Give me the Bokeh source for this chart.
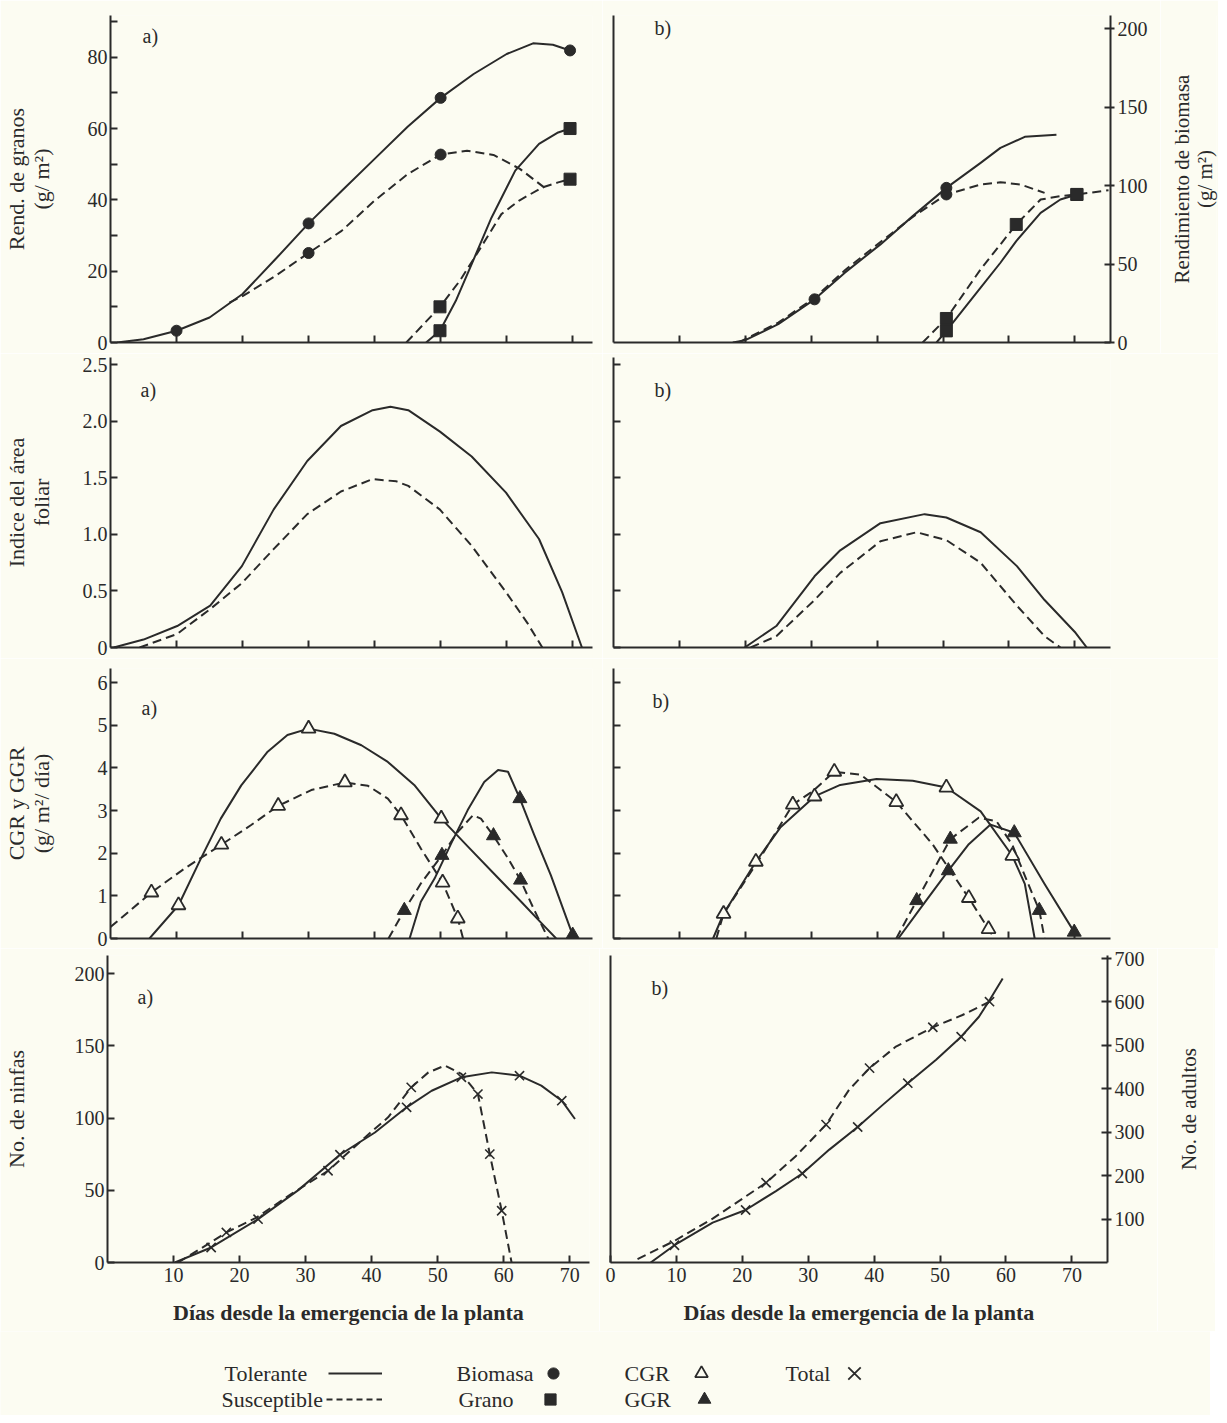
from bokeh.plotting import figure
from bokeh.layouts import column, row
from bokeh.models import Range1d, FixedTicker, LinearAxis, Label, Legend, LegendItem
from bokeh.embed import file_html
from bokeh.resources import INLINE

# ------------------------------------------------------------------ data
# Row 1: biomass (circles) and grain (squares) yield, g/m2
bio_tol_a_d = [1, 5, 10, 15, 20, 25, 30, 35, 40, 45, 50, 55, 60, 64, 67, 69.6]
bio_tol_a_v = [0, 0.9, 3.3, 7.0, 13.6, 23.4, 33.4, 42.5, 51.5, 60.5, 68.6, 75.3, 80.9, 83.9, 83.5, 81.9]
bio_tol_a_pd = [10, 30, 50, 69.6]
bio_tol_a_pv = [3.3, 33.4, 68.6, 81.9]
bio_sus_a_d = [18, 20, 25, 30, 35, 40, 45, 50, 54, 58, 62, 66.3]
bio_sus_a_v = [11.2, 13, 18.7, 25.1, 31.3, 39.8, 47.2, 52.7, 53.8, 52.6, 48.7, 42.6]
bio_sus_a_pd = [30, 50]
bio_sus_a_pv = [25.1, 52.7]
gra_tol_a_d = [47.8, 49.9, 52.3, 54.7, 57.7, 61.3, 64.9, 67.8, 69.6]
gra_tol_a_v = [0, 3.3, 11.7, 22, 35, 48.2, 55.7, 58.9, 60]
gra_tol_a_pd = [49.9, 69.6]
gra_tol_a_pv = [3.3, 60]
gra_sus_a_d = [44.8, 49.9, 52.9, 55.3, 59.2, 61.9, 65.4, 67.8, 69.6]
gra_sus_a_v = [0, 10, 17.3, 24.3, 36, 39.8, 43.5, 44.9, 45.8]
gra_sus_a_pd = [49.9, 69.6]
gra_sus_a_pv = [10, 45.8]

bio_tol_b_d = [18.1, 20, 25, 30.5, 35.1, 40.5, 45.4, 50.5, 55.7, 58.7, 62.4, 67.2]
bio_tol_b_v = [0, 1.5, 11.7, 27.5, 44.5, 62.5, 80.5, 98.5, 114.4, 124, 131, 132.4]
bio_tol_b_pd = [30.5, 50.5]
bio_tol_b_pv = [27.5, 98.5]
bio_sus_b_d = [19, 25, 30.5, 35.1, 40.5, 45.4, 50.5, 55.7, 58.7, 61.8, 65.4]
bio_sus_b_v = [0, 12.7, 28.5, 46, 64, 80, 94.3, 100.6, 102.1, 100.6, 95.3]
bio_sus_b_pd = [50.5]
bio_sus_b_pv = [94.3]
gra_sus_b_d = [46.9, 50.5, 55.7, 61.1, 64.8, 67.8, 70.3, 75.1]
gra_sus_b_v = [0, 15.3, 46.6, 75.2, 91.1, 93.2, 94.3, 97]
gra_sus_b_pd = [50.5, 61.1, 70.3]
gra_sus_b_pv = [15.3, 75.2, 94.3]
gra_tol_b_d = [49, 50.5, 55.7, 58.7, 61.1, 64.8, 67.8, 70.3]
gra_tol_b_v = [0, 7.4, 35, 50.8, 64.6, 82.6, 91.1, 94.3]
gra_tol_b_pd = [50.5, 70.3]
gra_tol_b_pv = [7.4, 94.3]

# Row 2: leaf area index
lai_tol_a_d = [0.5, 5, 10.1, 15.1, 19.9, 24.7, 29.8, 34.9, 39.7, 42.4, 45.1, 49.9, 54.7, 59.9, 64.9, 68.4, 71.4]
lai_tol_a_v = [0, 0.07, 0.19, 0.37, 0.72, 1.22, 1.65, 1.96, 2.10, 2.13, 2.10, 1.91, 1.69, 1.37, 0.96, 0.49, 0]
lai_sus_a_d = [4.4, 10.1, 15.1, 19.9, 24.7, 29.8, 34.9, 39.7, 43.3, 45.1, 49.9, 54.7, 59.9, 63.1, 65.4]
lai_sus_a_v = [0, 0.12, 0.34, 0.57, 0.87, 1.18, 1.38, 1.49, 1.47, 1.43, 1.22, 0.90, 0.49, 0.22, 0]
lai_tol_b_d = [19.9, 24.7, 30.5, 34.4, 40.5, 47.2, 50.5, 55.7, 61.2, 65.4, 70.1, 71.8]
lai_tol_b_v = [0, 0.19, 0.63, 0.86, 1.10, 1.18, 1.15, 1.02, 0.72, 0.42, 0.13, 0]
lai_sus_b_d = [20.8, 24.7, 30.5, 34.4, 40.5, 46, 50.5, 55.7, 61.2, 65.4, 67.8]
lai_sus_b_v = [0, 0.10, 0.42, 0.66, 0.94, 1.02, 0.95, 0.75, 0.37, 0.10, 0]

# Row 3: CGR (open triangles) and GGR (filled triangles), g/m2/day
cgr_tol_a_d = [5.9, 10.3, 13.7, 16.7, 19.8, 23.8, 26.8, 30.0, 33.9, 38.0, 42.0, 46.0, 50.1, 54.1, 58.2, 62.2, 65.7, 67.5]
cgr_tol_a_v = [0, 0.78, 1.88, 2.81, 3.59, 4.38, 4.77, 4.92, 4.80, 4.53, 4.14, 3.6, 2.81, 2.16, 1.5, 0.86, 0.29, 0]
cgr_tol_a_pd = [10.3, 30.0, 50.1]
cgr_tol_a_pv = [0.78, 4.92, 2.81]
cgr_sus_a_d = [0, 6.2, 11.2, 16.8, 21.3, 25.4, 30.4, 35.5, 39, 42, 44, 47, 50.3, 52.6, 53.4]
cgr_sus_a_v = [0.27, 1.08, 1.64, 2.2, 2.66, 3.11, 3.48, 3.66, 3.58, 3.28, 2.89, 2.11, 1.31, 0.47, 0]
cgr_sus_a_pd = [6.2, 16.8, 25.4, 35.5, 44, 50.3, 52.6]
cgr_sus_a_pv = [1.08, 2.2, 3.11, 3.66, 2.89, 1.31, 0.47]
ggr_tol_a_d = [45.3, 47.0, 49.1, 51.6, 54.1, 56.6, 58.7, 60.2, 62, 64.2, 66.7, 70.0]
ggr_tol_a_v = [0, 0.86, 1.41, 2.23, 3.01, 3.67, 3.95, 3.91, 3.28, 2.42, 1.48, 0.08]
ggr_tol_a_pd = [62, 70.0]
ggr_tol_a_pv = [3.28, 0.08]
ggr_sus_a_d = [42.1, 44.5, 47.0, 50.2, 52.6, 54.9, 56.1, 58, 60.2, 62.1, 64.2, 66.3]
ggr_sus_a_v = [0, 0.66, 1.29, 1.95, 2.5, 2.89, 2.81, 2.41, 1.88, 1.37, 0.66, 0]
ggr_sus_a_pd = [44.5, 50.2, 58, 62.1]
ggr_sus_a_pv = [0.66, 1.95, 2.41, 1.37]

cgr_tol_b_d = [15.1, 16.7, 21.6, 25.3, 30.5, 34.4, 39.9, 45.4, 50.5, 55.7, 60.5, 62.4, 63.9]
cgr_tol_b_v = [0, 0.58, 1.80, 2.60, 3.33, 3.60, 3.74, 3.70, 3.54, 2.98, 1.94, 1.28, 0]
cgr_tol_b_pd = [16.7, 21.6, 30.5, 50.5, 60.5]
cgr_tol_b_pv = [0.58, 1.80, 3.33, 3.54, 1.94]
cgr_sus_b_d = [15.6, 16.7, 22.3, 27.2, 30.2, 33.5, 37.5, 42.9, 48.4, 53.9, 56.9, 57.8]
cgr_sus_b_v = [0, 0.58, 1.9, 3.14, 3.45, 3.91, 3.84, 3.2, 2.21, 0.95, 0.22, 0]
cgr_sus_b_pd = [27.2, 33.5, 42.9, 53.9, 56.9]
cgr_sus_b_pv = [3.14, 3.91, 3.2, 0.95, 0.22]
ggr_sus_b_d = [42.9, 46, 51.1, 55.4, 58.1, 60.5, 62.7, 64.6, 65.4]
ggr_sus_b_v = [0, 0.89, 2.33, 2.83, 2.75, 2.2, 1.36, 0.66, 0]
ggr_sus_b_pd = [46, 51.1, 64.6]
ggr_sus_b_pv = [0.89, 2.33, 0.66]
ggr_tol_b_d = [43.2, 47, 50.8, 53.9, 57.2, 60.8, 65.4, 69.9]
ggr_tol_b_v = [0, 0.8, 1.59, 2.21, 2.67, 2.48, 1.28, 0.15]
ggr_tol_b_pd = [50.8, 60.8, 69.9]
ggr_tol_b_pv = [1.59, 2.48, 0.15]

# Row 4: nymphs (a) and adults (b), totals (x)
nin_tol_d = [10.2, 15.7, 22.8, 28.9, 35.2, 40.5, 45.3, 49.1, 53.6, 58.2, 62.4, 65.7, 68.8, 70.8]
nin_tol_v = [0, 10.4, 30, 50.1, 74.6, 90, 107.4, 118.9, 128.2, 131.6, 129.3, 122.4, 112, 99.3]
nin_tol_pd = [15.7, 22.8, 35.2, 45.3, 53.6, 62.4, 68.8]
nin_tol_pv = [10.4, 30, 74.6, 107.4, 128.2, 129.3, 112]
nin_sus_d = [10.7, 15.2, 18, 22.6, 27.8, 33.4, 39, 42.5, 46.0, 48.6, 51.1, 53.6, 56.1, 57.9, 59.7, 61.2]
nin_sus_v = [0, 12.7, 20.8, 31.2, 47.3, 63.5, 86.6, 100.5, 121.2, 131.6, 136.3, 130.5, 116.6, 75, 35.8, 0]
nin_sus_pd = [18, 33.4, 46.0, 56.1, 57.9, 59.7]
nin_sus_pv = [20.8, 63.5, 121.2, 116.6, 75, 35.8]
adu_tol_d = [6.1, 9.7, 15.5, 20.5, 25.1, 29.1, 33.2, 37.5, 41.3, 45.1, 49.4, 53.2, 55.9, 57.5, 59.5]
adu_tol_v = [0, 39.8, 91.8, 120.9, 164.5, 205, 260, 312, 363, 413, 467, 520, 566, 604, 654]
adu_tol_pd = [9.7, 20.5, 29.1, 37.5, 45.1, 53.2]
adu_tol_pv = [39.8, 120.9, 205, 312, 413, 520]
adu_sus_d = [4.1, 9.7, 15.5, 23.6, 28.1, 32.7, 36.2, 39.3, 43.3, 48.9, 53.4, 57.5]
adu_sus_v = [7.7, 49.7, 101, 183.6, 244.8, 317.5, 397.9, 447.6, 497.3, 541.7, 570, 600.6]
adu_sus_pd = [23.6, 32.7, 39.3, 48.9, 57.5]
adu_sus_pv = [183.6, 317.5, 447.6, 541.7, 600.6]

# axis ticks and labels
x_ticks = [10, 20, 30, 40, 50, 60, 70]
x_ticks_b4 = [0, 10, 20, 30, 40, 50, 60, 70]
y1_ticks = [0, 20, 40, 60, 80]
y1_minor = [10, 30, 50, 70, 90]
y1r_ticks = [0, 50, 100, 150, 200]
y2_ticks = [0, 0.5, 1.0, 1.5, 2.0, 2.5]
y2_labels = ["0", "0.5", "1.0", "1.5", "2.0", "2.5"]
y3_ticks = [0, 1, 2, 3, 4, 5, 6]
y4_ticks = [0, 50, 100, 150, 200]
y4r_ticks = [100, 200, 300, 400, 500, 600, 700]
x_label = "Días desde la emergencia de la planta"

# ------------------------------------------------------------------ style
FONT = "Liberation Serif"
INK = "#2a2a2a"
BG = "#fcfcf2"
DASH = "9 5"
LW = 2
NAN = float("nan")

LEFT_W, RIGHT_W = 482, 497
LEFT_L, RIGHT_L = 110, 613
X_LEFT_MAX, X_RIGHT_MAX = 73.0, 75.4
RIGHT_BORDER = 50      # right-axis tick labels
SIDE_W = 58            # strip that carries the right-hand titles
# frame height, border top, border bottom, y max left, y max right
ROWS = [
    (327, 15, 11, 91.7, 208.3),
    (290, 4, 11, 2.566, 2.566),
    (270, 10, 10, 6.33, 6.33),
    (307, 7, 69, 212.5, 707.0),
]
TOPS = []
_y = 0
for fh, bt, bb, _a, _b in ROWS:
    TOPS.append(_y + bt)
    _y += bt + fh + bb


def make_fig(col, r):
    fh, bt, bb, yl, yr = ROWS[r]
    if col == 0:
        p = figure(frame_width=LEFT_W, frame_height=fh,
                   x_range=Range1d(0, X_LEFT_MAX), y_range=Range1d(0, yl),
                   min_border_left=102, min_border_right=10,
                   min_border_top=bt, min_border_bottom=bb,
                   output_backend="svg", toolbar_location=None)
    else:
        p = figure(frame_width=RIGHT_W, frame_height=fh,
                   x_range=Range1d(0, X_RIGHT_MAX), y_range=Range1d(0, yr),
                   min_border_left=11, min_border_right=RIGHT_BORDER + SIDE_W,
                   min_border_top=bt, min_border_bottom=bb,
                   output_backend="svg", toolbar_location=None)
    p.grid.visible = False
    p.outline_line_color = None
    p.background_fill_color = BG
    p.border_fill_color = BG
    return p


def style_axis(ax, ticks, labels=None, tin=7, tout=0, minor=None, show=True):
    ax.ticker = FixedTicker(ticks=ticks, minor_ticks=minor or [])
    ax.axis_line_color = INK
    ax.axis_line_width = LW
    ax.major_tick_line_color = INK if (tin or tout) else None
    ax.major_tick_line_width = LW
    ax.major_tick_in = tin
    ax.major_tick_out = tout
    ax.minor_tick_line_color = INK
    ax.minor_tick_line_width = LW
    ax.minor_tick_in = tin
    ax.minor_tick_out = tout
    ax.major_label_text_font = FONT
    ax.major_label_text_color = INK
    if show:
        ax.major_label_text_font_size = "20px"
        ax.major_label_standoff = 3
        if labels is not None:
            ax.major_label_overrides = {t: l for t, l in zip(ticks, labels)}
    else:
        ax.major_label_text_font_size = "1px"
        ax.major_label_standoff = 0
        ax.major_label_overrides = {t: "" for t in ticks}


def style_label(ax, text, standoff, size="22px", bold=False, line_height=1.0):
    ax.axis_label = text
    ax.axis_label_text_font = FONT
    ax.axis_label_text_font_size = size
    ax.axis_label_text_font_style = "bold" if bold else "normal"
    ax.axis_label_text_color = INK
    ax.axis_label_text_line_height = line_height
    ax.axis_label_standoff = standoff


def side_strip(r, text, standoff, line_height=1.0):
    """Narrow strip to the right of a right-hand panel: its left axis carries
    the right-hand title so that it reads bottom-to-top like the reference."""
    fh, bt, bb, _a, _b = ROWS[r]
    s = figure(frame_width=2, frame_height=fh, x_range=Range1d(0, 1), y_range=Range1d(0, 1),
               x_axis_type=None, min_border_left=SIDE_W - 2, min_border_right=0,
               min_border_top=bt, min_border_bottom=bb,
               output_backend="svg", toolbar_location=None)
    s.grid.visible = False
    s.outline_line_color = None
    s.background_fill_color = BG
    s.border_fill_color = BG
    ax = s.yaxis[0]
    style_axis(ax, [0.5], tin=0, show=False)
    ax.axis_line_color = None
    style_label(ax, text, standoff, size="21px", line_height=line_height)
    return s


def to_data(col, r, px, py):
    fh = ROWS[r][0]
    top = TOPS[r]
    if col == 0:
        fl, fw, xm, ym = LEFT_L, LEFT_W, X_LEFT_MAX, ROWS[r][3]
    else:
        fl, fw, xm, ym = RIGHT_L, RIGHT_W, X_RIGHT_MAX, ROWS[r][4]
    return (px - fl) / fw * xm, (top + fh - py) / fh * ym


def panel_label(p, col, r, text, px, py):
    x, y = to_data(col, r, px, py)
    p.add_layout(Label(x=x, y=y, text=text, text_font=FONT, text_font_size="20px",
                       text_color=INK, text_baseline="middle", text_align="left"))


def curve(p, d, v, dashed=False):
    p.line(d, v, line_color=INK, line_width=LW, line_dash=DASH if dashed else "solid",
           line_join="round")


def marks(p, d, v, kind):
    if kind == "circle":
        p.scatter(d, v, marker="circle", size=11, fill_color=INK, line_color=INK)
    elif kind == "square":
        p.scatter(d, v, marker="square", size=12, fill_color=INK, line_color=INK)
    elif kind == "open_tri":
        p.scatter(d, v, marker="triangle", size=14, fill_color=BG, line_color=INK, line_width=1.8)
    elif kind == "tri":
        p.scatter(d, v, marker="triangle", size=14, fill_color=INK, line_color=INK)
    elif kind == "x":
        p.scatter(d, v, marker="x", size=13, line_color=INK, line_width=1.6)


# ------------------------------------------------------------------ row 1
p1a = make_fig(0, 0)
style_axis(p1a.xaxis[0], x_ticks, show=False)
style_axis(p1a.yaxis[0], y1_ticks, minor=y1_minor)
style_label(p1a.yaxis[0], "Rend. de granos\n(g/ m²)", 31)
curve(p1a, bio_tol_a_d, bio_tol_a_v)
curve(p1a, bio_sus_a_d, bio_sus_a_v, True)
curve(p1a, gra_tol_a_d, gra_tol_a_v)
curve(p1a, gra_sus_a_d, gra_sus_a_v, True)
marks(p1a, bio_tol_a_pd, bio_tol_a_pv, "circle")
marks(p1a, bio_sus_a_pd, bio_sus_a_pv, "circle")
marks(p1a, gra_tol_a_pd, gra_tol_a_pv, "square")
marks(p1a, gra_sus_a_pd, gra_sus_a_pv, "square")
panel_label(p1a, 0, 0, "a)", 142, 35)

p1b = make_fig(1, 0)
p1b.min_border_right = RIGHT_BORDER
style_axis(p1b.xaxis[0], x_ticks, show=False)
style_axis(p1b.yaxis[0], [0], tin=0, show=False)
ax1r = LinearAxis()
style_axis(ax1r, y1r_ticks, tin=6, tout=4)
p1b.add_layout(ax1r, "right")
curve(p1b, bio_tol_b_d, bio_tol_b_v)
curve(p1b, bio_sus_b_d, bio_sus_b_v, True)
curve(p1b, gra_tol_b_d, gra_tol_b_v)
curve(p1b, gra_sus_b_d, gra_sus_b_v, True)
marks(p1b, bio_tol_b_pd, bio_tol_b_pv, "circle")
marks(p1b, bio_sus_b_pd, bio_sus_b_pv, "circle")
marks(p1b, gra_tol_b_pd, gra_tol_b_pv, "square")
marks(p1b, gra_sus_b_pd, gra_sus_b_pv, "square")
panel_label(p1b, 1, 0, "b)", 654, 27)
p1c = side_strip(0, "Rendimiento de biomasa\n(g/ m²)", 0, line_height=0.95)

# ------------------------------------------------------------------ row 2
p2a = make_fig(0, 1)
style_axis(p2a.xaxis[0], x_ticks, show=False)
style_axis(p2a.yaxis[0], y2_ticks, labels=y2_labels)
style_label(p2a.yaxis[0], "Indice del área\nfoliar", 26)
curve(p2a, lai_tol_a_d, lai_tol_a_v)
curve(p2a, lai_sus_a_d, lai_sus_a_v, True)
panel_label(p2a, 0, 1, "a)", 140, 389)

p2b = make_fig(1, 1)
style_axis(p2b.xaxis[0], x_ticks, show=False)
style_axis(p2b.yaxis[0], y2_ticks, show=False)
curve(p2b, lai_tol_b_d, lai_tol_b_v)
curve(p2b, lai_sus_b_d, lai_sus_b_v, True)
panel_label(p2b, 1, 1, "b)", 654, 389)

# ------------------------------------------------------------------ row 3
p3a = make_fig(0, 2)
style_axis(p3a.xaxis[0], x_ticks, show=False)
style_axis(p3a.yaxis[0], y3_ticks)
style_label(p3a.yaxis[0], "CGR y GGR\n(g/ m²/ día)", 41)
curve(p3a, cgr_tol_a_d, cgr_tol_a_v)
curve(p3a, cgr_sus_a_d, cgr_sus_a_v, True)
curve(p3a, ggr_tol_a_d, ggr_tol_a_v)
curve(p3a, ggr_sus_a_d, ggr_sus_a_v, True)
marks(p3a, cgr_tol_a_pd, cgr_tol_a_pv, "open_tri")
marks(p3a, cgr_sus_a_pd, cgr_sus_a_pv, "open_tri")
marks(p3a, ggr_tol_a_pd, ggr_tol_a_pv, "tri")
marks(p3a, ggr_sus_a_pd, ggr_sus_a_pv, "tri")
panel_label(p3a, 0, 2, "a)", 141, 707)

p3b = make_fig(1, 2)
style_axis(p3b.xaxis[0], x_ticks, show=False)
style_axis(p3b.yaxis[0], y3_ticks, show=False)
curve(p3b, cgr_tol_b_d, cgr_tol_b_v)
curve(p3b, cgr_sus_b_d, cgr_sus_b_v, True)
curve(p3b, ggr_tol_b_d, ggr_tol_b_v)
curve(p3b, ggr_sus_b_d, ggr_sus_b_v, True)
marks(p3b, cgr_tol_b_pd, cgr_tol_b_pv, "open_tri")
marks(p3b, cgr_sus_b_pd, cgr_sus_b_pv, "open_tri")
marks(p3b, ggr_tol_b_pd, ggr_tol_b_pv, "tri")
marks(p3b, ggr_sus_b_pd, ggr_sus_b_pv, "tri")
panel_label(p3b, 1, 2, "b)", 652, 700)

# ------------------------------------------------------------------ row 4
p4a = make_fig(0, 3)
style_axis(p4a.xaxis[0], x_ticks)
p4a.xaxis[0].major_label_standoff = 5
style_label(p4a.xaxis[0], x_label, 15, bold=True)
style_axis(p4a.yaxis[0], y4_ticks)
style_label(p4a.yaxis[0], "No. de ninfas", 43)
curve(p4a, nin_tol_d, nin_tol_v)
curve(p4a, nin_sus_d, nin_sus_v, True)
marks(p4a, nin_tol_pd, nin_tol_pv, "x")
marks(p4a, nin_sus_pd, nin_sus_pv, "x")
panel_label(p4a, 0, 3, "a)", 140, 996)

p4b = make_fig(1, 3)
p4b.min_border_right = RIGHT_BORDER
style_axis(p4b.xaxis[0], x_ticks_b4)
p4b.xaxis[0].major_label_standoff = 5
style_label(p4b.xaxis[0], x_label, 15, bold=True)
style_axis(p4b.yaxis[0], [0], tin=0, show=False)
ax4r = LinearAxis()
style_axis(ax4r, y4r_ticks, tin=6, tout=4)
p4b.add_layout(ax4r, "right")
curve(p4b, adu_tol_d, adu_tol_v)
curve(p4b, adu_sus_d, adu_sus_v, True)
marks(p4b, adu_tol_pd, adu_tol_pv, "x")
marks(p4b, adu_sus_pd, adu_sus_pv, "x")
panel_label(p4b, 1, 3, "b)", 654, 987)
p4c = side_strip(3, "No. de adultos", 13)

# ------------------------------------------------------------------ legend
LEG_W, LEG_H = 1210, 84
leg = figure(width=LEG_W, height=LEG_H, x_range=Range1d(0, LEG_W), y_range=Range1d(0, LEG_H),
             x_axis_type=None, y_axis_type=None, min_border=0,
             output_backend="svg", toolbar_location=None)
leg.grid.visible = False
leg.outline_line_color = None
leg.background_fill_color = BG
leg.border_fill_color = BG

# legend key renderers (a single NaN point, so nothing is plotted)
r_tol = leg.line(x=[NAN], y=[NAN], line_color=INK, line_width=LW)
r_sus = leg.line(x=[NAN], y=[NAN], line_color=INK, line_width=LW, line_dash="6 4")
r_bio = leg.scatter(x=[NAN], y=[NAN], marker="circle", fill_color=INK, line_color=INK)
r_gra = leg.scatter(x=[NAN], y=[NAN], marker="square", fill_color=INK, line_color=INK)
r_cgr = leg.scatter(x=[NAN], y=[NAN], marker="triangle", fill_color=BG, line_color=INK, line_width=1.8)
r_ggr = leg.scatter(x=[NAN], y=[NAN], marker="triangle", fill_color=INK, line_color=INK)
r_tot = leg.scatter(x=[NAN], y=[NAN], marker="x", line_color=INK, line_width=1.8)

ROW1_Y, ROW2_Y = 42, 16
entries = [
    # renderer, text, text_x, glyph_x (left), row_y, glyph_w, glyph_h
    (r_tol, "Tolerante", 224, 328, ROW1_Y, 54, 10),
    (r_sus, "Susceptible", 221, 326, ROW2_Y, 56, 10),
    (r_bio, "Biomasa", 456, 539, ROW1_Y, 28, 28),
    (r_gra, "Grano", 458, 536, ROW2_Y, 28, 28),
    (r_cgr, "CGR", 624, 685, ROW1_Y, 32, 32),
    (r_ggr, "GGR", 624, 688, ROW2_Y, 32, 32),
    (r_tot, "Total", 785, 832, ROW1_Y, 44, 44),
]
for rend, text, tx, gx, gy, gw, gh in entries:
    leg.add_layout(Label(x=tx, y=gy, text=text, text_font=FONT, text_font_size="22px",
                         text_color=INK, text_baseline="middle", text_align="left"))
    lg = Legend(items=[LegendItem(label=" ", renderers=[rend])],
                location=(gx, gy - gh / 2), glyph_width=gw, glyph_height=gh,
                label_width=0, label_height=0, label_standoff=0,
                label_text_font_size="1px", padding=0, margin=0, spacing=0,
                background_fill_alpha=0, border_line_alpha=0)
    leg.add_layout(lg)

layout = column(row(p1a, p1b, p1c), row(p2a, p2b), row(p3a, p3b), row(p4a, p4b, p4c), leg)
open("out.html", "w").write(file_html(layout, INLINE))
